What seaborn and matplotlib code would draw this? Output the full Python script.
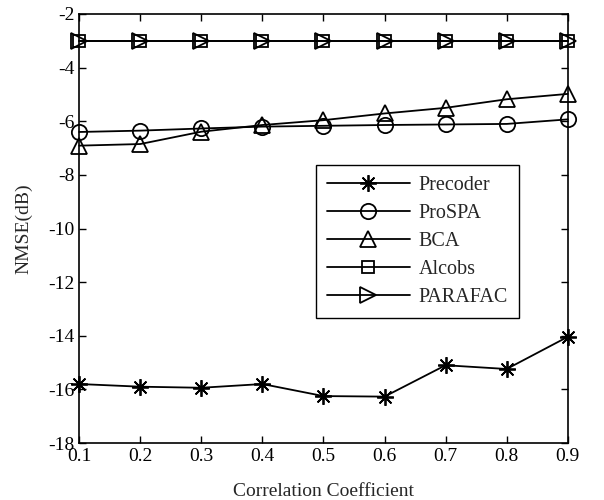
import pandas as pd
import seaborn as sns
import matplotlib
matplotlib.use("Agg")
import matplotlib.pyplot as plt

corr = [0.1, 0.2, 0.3, 0.4, 0.5, 0.6, 0.7, 0.8, 0.9]
precoder = [-15.8, -15.9, -15.94, -15.8, -16.25, -16.27, -15.1, -15.24, -14.04]
prospa = [-6.4, -6.35, -6.27, -6.2, -6.17, -6.14, -6.12, -6.1, -5.93]
bca = [-6.91, -6.85, -6.39, -6.14, -5.96, -5.71, -5.5, -5.18, -4.98]
alcobs = [-3.0, -3.0, -3.0, -3.0, -3.0, -3.0, -3.0, -3.0, -3.0]
parafac = [-3.0, -3.0, -3.0, -3.0, -3.0, -3.0, -3.0, -3.0, -3.0]

# asterisk like matlab '*' (plus + cross)
series = {"Precoder": (precoder, (8, 2, 0), 12),
          "ProSPA": (prospa, "o", 11),
          "BCA": (bca, "^", 12),
          "Alcobs": (alcobs, "s", 9),
          "PARAFAC": (parafac, ">", 12)}

sns.set_style("ticks")
plt.rcParams['font.family'] = ['Liberation Serif', 'DejaVu Serif']
plt.rcParams['axes.unicode_minus'] = False
plt.rcParams['xtick.direction'] = 'in'
plt.rcParams['ytick.direction'] = 'in'

fig = plt.figure(figsize=(6.04, 5.00), dpi=100)
ax = fig.add_axes([0.131, 0.114, 0.809, 0.858])

for name, (vals, mk, ms) in series.items():
    df = pd.DataFrame({"x": corr, "y": vals})
    sns.lineplot(data=df, x="x", y="y", ax=ax, color="black", linewidth=1.3,
                 marker=mk, markersize=ms, markerfacecolor="none",
                 markeredgecolor="black", markeredgewidth=1.3, label=name,
                 clip_on=False)

ax.set_xlim(0.1, 0.9)
ax.set_ylim(-18, -2)
ax.set_xticks(corr)
ax.set_xticklabels([f"{v:.1f}" for v in corr])
ax.set_yticks(range(-18, -1, 2))
ax.tick_params(top=True, right=True, labelsize=14, length=5, width=1, colors="black")
for s in ax.spines.values():
    s.set_linewidth(1.2)
    s.set_color("black")
ax.set_xlabel("Correlation Coefficient", fontsize=14, labelpad=13)
ax.set_ylabel("NMSE(dB)", fontsize=14, labelpad=11)

leg = ax.legend(loc="upper left", bbox_to_anchor=(0.485, 0.648), borderaxespad=0,
                fontsize=14.5, handlelength=4.1, labelspacing=0.44, borderpad=0.55,
                handletextpad=0.45, fancybox=False, framealpha=1, edgecolor="black")
leg.get_frame().set_linewidth(1.0)

fig.savefig("out.png", dpi=100)
